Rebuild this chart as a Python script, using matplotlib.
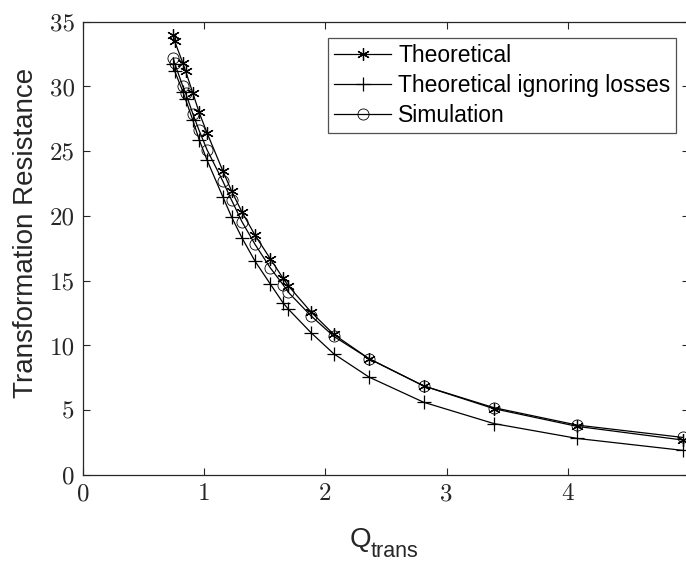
import matplotlib
matplotlib.use("Agg")
import matplotlib.pyplot as plt

# Quality factor of the transformation network
q_trans = [0.745, 0.756, 0.824, 0.846, 0.906, 0.958, 1.024, 1.153, 1.227, 1.312,
           1.42, 1.545, 1.65, 1.695, 1.88, 2.07, 2.36, 2.81, 3.39, 4.08, 4.95]

# Transformation resistance for each model
r_theoretical = [34.0, 33.5, 31.8, 31.2, 29.5, 28.0, 26.4, 23.5, 21.9, 20.3,
                 18.5, 16.7, 15.2, 14.6, 12.6, 10.85, 8.98, 6.88, 5.12, 3.75, 2.7]
r_lossless = [31.7, 31.2, 29.6, 29.0, 27.4, 25.9, 24.3, 21.5, 19.9, 18.3,
              16.5, 14.75, 13.3, 12.8, 11.0, 9.35, 7.56, 5.62, 3.97, 2.82, 1.9]
r_simulation = [32.2, 31.8, 30.0, 29.5, 27.9, 26.6, 25.1, 22.7, 21.2, 19.55,
                17.8, 16.0, 14.7, 14.1, 12.3, 10.7, 8.98, 6.88, 5.2, 3.85, 2.9]

series_labels = ["Theoretical", "Theoretical ignoring losses", "Simulation"]
x_ticks = [0, 1, 2, 3, 4]
y_ticks = [0, 5, 10, 15, 20, 25, 30, 35]

axis_color = "#262626"
label_font = "Liberation Sans"

W, H = 686, 563
fig = plt.figure(figsize=(W / 100, H / 100), dpi=100)
ax = fig.add_axes([83 / W, 1 - 475 / H, (689 - 83) / W, (475 - 21.7) / H])

ax.plot(q_trans, r_theoretical, color="black", lw=0.9, marker=(6, 2, 0),
        ms=9, mew=0.9, label=series_labels[0])
ax.plot(q_trans, r_lossless, color="black", lw=0.9, marker="+",
        ms=10, mew=0.9, label=series_labels[1])
ax.plot(q_trans, r_simulation, color="black", lw=0.9, marker="o",
        ms=8, mew=0.6, mfc="none", label=series_labels[2])

ax.set_xlim(0, 5)
ax.set_ylim(0, 35)
ax.set_xticks(x_ticks)
ax.set_yticks(y_ticks)
ax.set_xticklabels([str(v) for v in x_ticks], family="cmr10", fontsize=18, color=axis_color)
ax.set_yticklabels([str(v) for v in y_ticks], family="cmr10", fontsize=18, color=axis_color)
ax.tick_params(direction="in", length=5, width=0.8, top=True, right=True,
               color=axis_color, pad=6)
for s in ax.spines.values():
    s.set_color(axis_color)
    s.set_linewidth(0.9)

# Axis titles: "Q" with a large "trans" subscript, and the vertical resistance label
fig.text(350 / W, 1 - 547 / H, "Q", family=label_font, fontsize=20,
         color=axis_color, ha="left", va="baseline")
fig.text(371 / W, 1 - 557 / H, "trans", family=label_font, fontsize=15.5,
         color=axis_color, ha="left", va="baseline")
fig.text(26 / W, 1 - 233 / H, "Transformation Resistance", family=label_font,
         fontsize=20, color=axis_color, rotation=90, ha="center", va="center")

leg = ax.legend(loc="upper right", bbox_to_anchor=(676 / W, 1 - 38 / H),
                bbox_transform=fig.transFigure, prop={"family": label_font, "size": 16.5},
                frameon=True, fancybox=False, handlelength=2.5, handletextpad=0.3,
                borderpad=0.25, labelspacing=0.32, borderaxespad=0)
leg.get_frame().set_edgecolor(axis_color)
leg.get_frame().set_linewidth(0.9)

fig.savefig("out.png", dpi=100)
